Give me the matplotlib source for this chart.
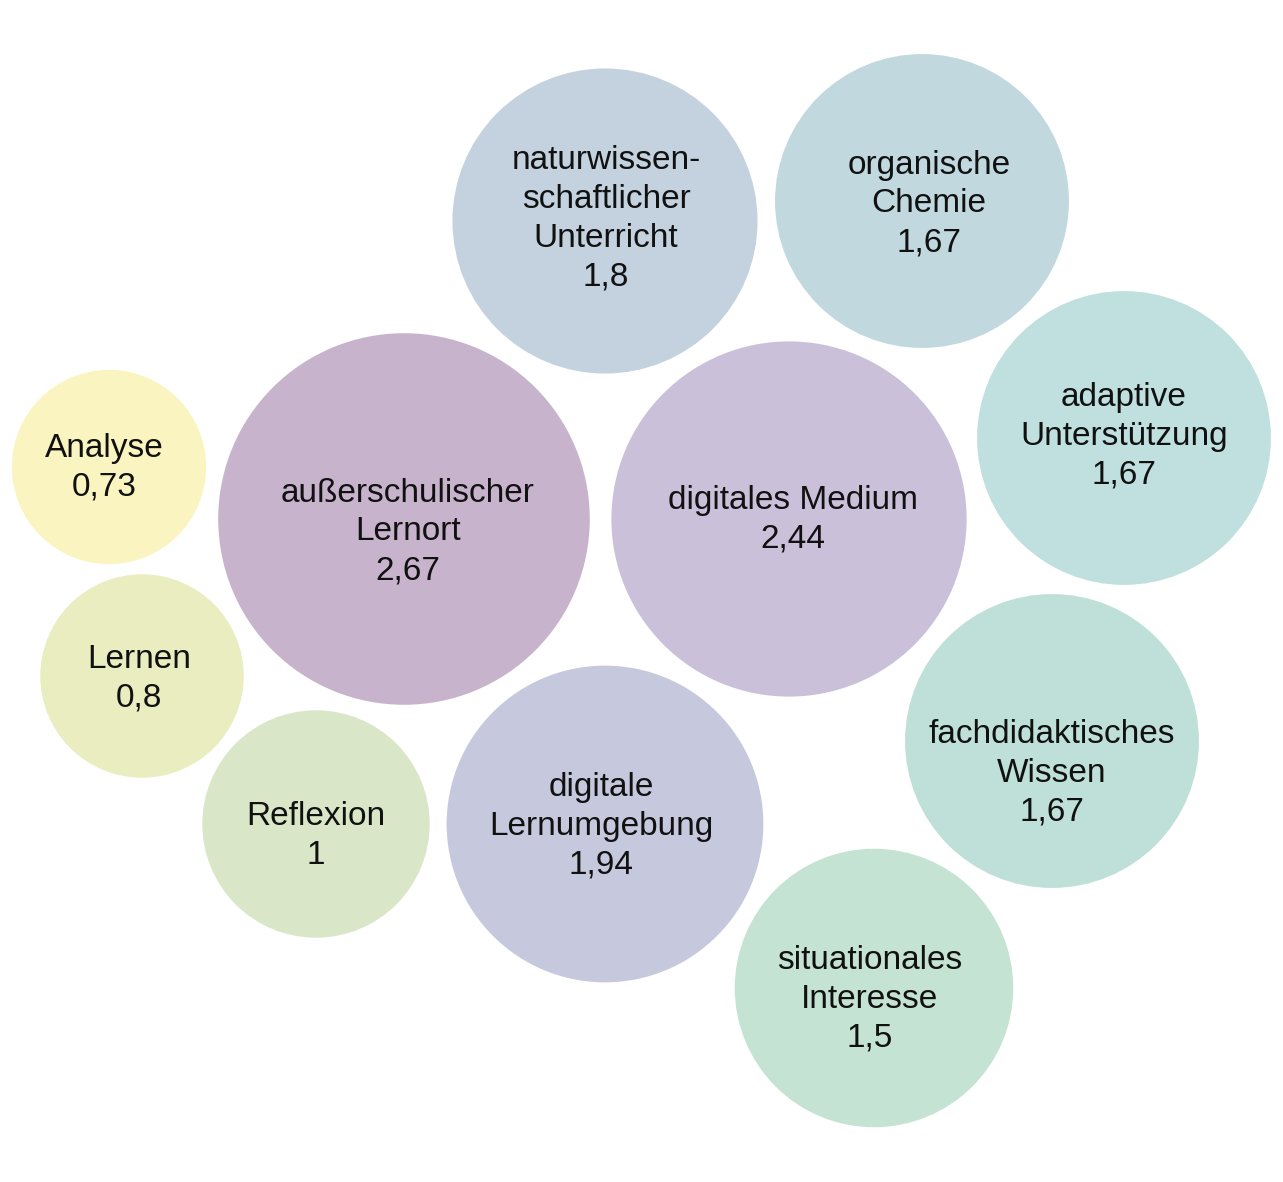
import numpy as np
import matplotlib.pyplot as plt
from matplotlib.patches import Circle

# bubble chart: value -> circle area
labels = ["naturwissen-\nschaftlicher\nUnterricht", "organische\nChemie", "adaptive\nUnterstützung",
          "Analyse", "außerschulischer\nLernort", "digitales Medium", "Lernen",
          "fachdidaktisches\nWissen", "Reflexion", "digitale\nLernumgebung", "situationales\nInteresse"]
values = [1.8, 1.67, 1.67, 0.73, 2.67, 2.44, 0.8, 1.67, 1.0, 1.94, 1.5]
value_text = ["1,8", "1,67", "1,67", "0,73", "2,67", "2,44", "0,8", "1,67", "1", "1,94", "1,5"]

# layout (pixel positions of bubble centres and label centres)
cx = [605, 922, 1124, 109, 404, 789, 142, 1052, 316, 605, 874]
cy = [221, 201, 438, 467, 519, 519, 676, 741, 824, 824, 988]
tx = [606, 929, 1124, 104, 408, 793, 139, 1052, 316, 601, 870]
ty = [219, 204, 436, 468, 532, 520, 679, 773, 836, 826, 999]
colors = ["#C3D2DE", "#C0D8DE", "#BFE0DF", "#FAF5C0", "#C8B3CC", "#CBC0D9",
          "#E9EDC0", "#BEE0D8", "#D9E7C8", "#C6C8DD", "#C5E3D2"]

scale = 113.7  # radius in px for value 1

fig = plt.figure(figsize=(12.83, 11.82), dpi=100)
ax = fig.add_axes([0, 0, 1, 1])
ax.set_xlim(0, 1283)
ax.set_ylim(1182, 0)
ax.set_aspect("equal")
ax.axis("off")

for i in range(len(values)):
    r = scale * np.sqrt(values[i])
    ax.add_patch(Circle((cx[i], cy[i]), r, color=colors[i], lw=0))
    ax.text(tx[i], ty[i], labels[i] + "\n" + value_text[i], ha="center", va="center",
            fontsize=24, family="Liberation Sans", color="#111111", linespacing=1.33)

fig.savefig("out.png", dpi=100, facecolor="white")
